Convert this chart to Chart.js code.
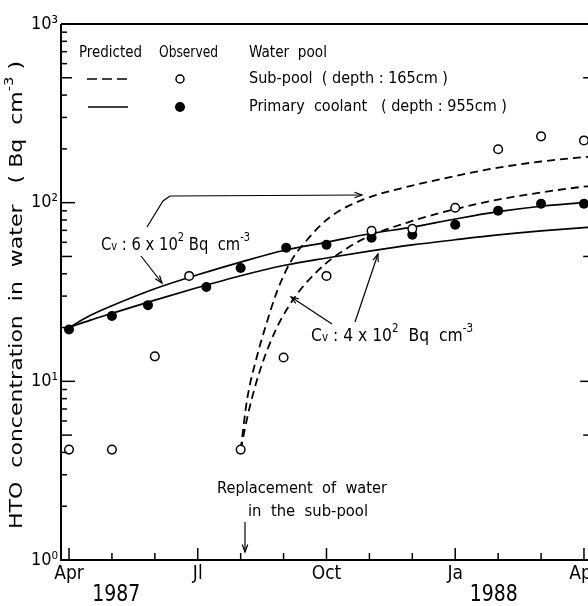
<!DOCTYPE html>
<html><head><meta charset="utf-8">
<script src="https://cdn.jsdelivr.net/npm/chart.js@4"></script>
<style>html,body{margin:0;padding:0;background:#fff;overflow:hidden;width:588px;height:606px}canvas{display:block}</style>
</head><body>
<canvas id="c" width="596" height="606" style="width:596px;height:606px"></canvas>
<script>
const FONT = "'Liberation Sans Narrow','DejaVu Sans Condensed','Liberation Sans',sans-serif";

// x = months since 1 April 1987
const monthTicks = [0,1,2,3,4,5,6,7,8,9,10,11,12];
const monthLabels = {0:'Apr',3:'Jl',6:'Oct',9:'Ja',12:'Apr'};
const yTickValues = [1,10,100,1000];
const yTickLabels = {1:'10⁰',10:'10¹',100:'10²',1000:'10³'};

// Observed
const subPoolMonths = [0,1,2,2.8,4,5,6,7.05,8,9,10,11,12];
const subPoolObs    = [4.15,4.15,13.8,38.9,4.15,13.6,38.9,69.6,71.4,93.7,199,235,223];
const coolantMonths = [0,1,1.84,3.2,4,5.06,6,7.05,8,9,10,11,12];
const coolantObs    = [19.5,23.2,26.7,33.7,43.1,55.9,58.1,63.6,66.1,75.2,90.2,98.6,98.6];

// Predicted
const coolant6Months = [0,0.5,1,2,3,4,5,6,7,8,9,10,11,12,12.3];
const coolant6       = [20,23.4,26.5,33,39.5,46.5,54,60,67,73,81,89,95.5,100,101];
const coolant4Months = [0,0.5,1,2,3,4,5,6,7,8,9,10,11,12,12.3];
const coolant4       = [20,22,24,28.5,33.5,39,44.5,49,53.5,58,62,66,69.5,72.5,73.2];
const subPool6Months = [4,4.15,4.38,4.6,4.85,5.15,5.55,6.08,6.85,7.72,9,10,11,12,12.3];
const subPool6       = [4.15,7.9,13.8,21,32,46,62,83,104,120,141,157,170,180,182];
const subPool4Months = [4,4.2,4.45,4.8,5.15,5.5,6,6.5,7,8,9,10,11,12,12.3];
const subPool4       = [4.15,7,11.5,19,27,35,46,56,65,79,92,104,114,123,125];

const pts = (xs, ys) => xs.map((x,i)=>({x, y: ys[i]}));

function richWidth(ctx, segs, size){
  let w=0;
  for(const s of segs){ ctx.font = (s.sup||s.sub? Math.round(size*0.65):size)+'px '+FONT; w+=ctx.measureText(s.t).width; }
  return w;
}
function drawRich(ctx, segs, x, y, size, targetW, align, rot){
  const nat = richWidth(ctx, segs, size);
  const sx = targetW ? targetW/nat : 1;
  const w = targetW || nat;
  ctx.save();
  ctx.translate(x,y);
  if(rot) ctx.rotate(rot);
  let x0 = align==='center' ? -w/2 : align==='right' ? -w : 0;
  ctx.translate(x0,0);
  ctx.scale(sx,1);
  ctx.fillStyle='#000'; ctx.textBaseline='middle'; ctx.textAlign='left';
  let cx=0;
  for(const s of segs){
    const fs = s.sup||s.sub ? Math.round(size*0.65) : size;
    ctx.font = fs+'px '+FONT;
    const dy = s.sup ? -size*0.38 : s.sub ? size*0.12 : 0;
    ctx.fillText(s.t, cx, dy);
    cx += ctx.measureText(s.t).width;
  }
  ctx.restore();
}
function line(ctx, pts, w){
  ctx.beginPath(); ctx.moveTo(pts[0][0],pts[0][1]);
  for(let i=1;i<pts.length;i++) ctx.lineTo(pts[i][0],pts[i][1]);
  ctx.lineWidth=w||1; ctx.strokeStyle='#000'; ctx.stroke();
}
function arrow(ctx, x1,y1,x2,y2, w){
  line(ctx, [[x1,y1],[x2,y2]], w||1);
  const a = Math.atan2(y2-y1,x2-x1), L=8, h=0.35;
  line(ctx, [[x2-L*Math.cos(a-h), y2-L*Math.sin(a-h)],[x2,y2],[x2-L*Math.cos(a+h), y2-L*Math.sin(a+h)]], w||1);
}

const deco = {
  id:'deco',
  afterDraw(chart){
    const ctx = chart.ctx, a = chart.chartArea;
    const xs = chart.scales.x, ys = chart.scales.y;
    ctx.save();
    ctx.setLineDash([]);
    // frame
    line(ctx, [[a.left,a.top],[a.right,a.top],[a.right,a.bottom],[a.left,a.bottom],[a.left,a.top]], 2);
    // y ticks (inward)
    for(let d=0; d<3; d++){
      for(let k=1;k<=9;k++){
        const v = k*Math.pow(10,d), y = ys.getPixelForValue(v);
        const len = k===1?14:(k===5?11:6);
        line(ctx, [[a.left,y],[a.left+len,y]], 1.5);
        if(k===1||k===5) line(ctx, [[a.right,y],[a.right-(k===1?10:7),y]], 1.5);
      }
    }
    // x ticks (inward)
    for(const m of monthTicks){
      const x = xs.getPixelForValue(m), len = m%3===0?12:7;
      line(ctx, [[x,a.bottom],[x,a.bottom-len]], 1.5);
    }
    // year labels
    drawRich(ctx, [{t:'1987'}], xs.getPixelForValue(1.1), 595, 23, 48, 'center');
    drawRich(ctx, [{t:'1988'}], xs.getPixelForValue(9.9), 595, 23, 48, 'center');
    // y title
    drawRich(ctx, [{t:'HTO  concentration  in  water   ( Bq  cm'},{t:'-3',sup:true},{t:' )'}], 17, 295, 18, 468, 'center', -Math.PI/2);
    // legend
    drawRich(ctx, [{t:'Predicted'}], 79, 53, 16, 63, 'left');
    drawRich(ctx, [{t:'Observed'}], 159, 53, 16, 59, 'left');
    drawRich(ctx, [{t:'Water  pool'}], 249, 53, 16, 78, 'left');
    ctx.setLineDash([10,5]); line(ctx, [[87,79],[128,79]], 1.6); ctx.setLineDash([]);
    ctx.beginPath(); ctx.arc(180,79,4,0,Math.PI*2); ctx.fillStyle='#fff'; ctx.fill(); ctx.lineWidth=1.5; ctx.stroke();
    drawRich(ctx, [{t:'Sub-pool  ( depth : 165cm )'}], 249, 79, 16, 199, 'left');
    line(ctx, [[88,107],[128,107]], 1.6);
    ctx.beginPath(); ctx.arc(180,107,5,0,Math.PI*2); ctx.fillStyle='#000'; ctx.fill();
    drawRich(ctx, [{t:'Primary  coolant   ( depth : 955cm )'}], 249, 107, 16, 258, 'left');
    // annotation Cv 6x10^2
    drawRich(ctx, [{t:'C'},{t:'v',sub:true},{t:' : 6 x 10'},{t:'2',sup:true},{t:' Bq  cm'},{t:'-3',sup:true}], 101, 245, 18, 149, 'left');
    line(ctx, [[147,227],[163,201],[170,196]], 1.2);
    arrow(ctx, 170,196, 362,195, 1.2);
    arrow(ctx, 141,256, 162,283, 1.2);
    // annotation Cv 4x10^2
    drawRich(ctx, [{t:'C'},{t:'v',sub:true},{t:' : 4 x 10'},{t:'2',sup:true},{t:'  Bq  cm'},{t:'-3',sup:true}], 311, 336, 18, 162, 'left');
    arrow(ctx, 332,324, 291,297, 1.2);
    arrow(ctx, 355,322, 378,254, 1.2);
    // replacement
    drawRich(ctx, [{t:'Replacement  of  water'}], 217, 489, 16, 170, 'left');
    drawRich(ctx, [{t:'in  the  sub-pool'}], 248, 512, 16, 120, 'left');
    arrow(ctx, 245,522, 245,552, 1.2);
    ctx.restore();
  }
};

new Chart(document.getElementById('c'), {
  type:'scatter',
  data:{datasets:[
    {label:'Sub-pool observed', data:pts(subPoolMonths, subPoolObs), showLine:false,
     pointRadius:4.3, pointBorderWidth:1.5, pointBorderColor:'#000', pointBackgroundColor:'#fff'},
    {label:'Primary coolant observed', data:pts(coolantMonths, coolantObs), showLine:false,
     pointRadius:5, pointBorderWidth:0, pointBackgroundColor:'#000', pointBorderColor:'#000'},
    {label:'Primary predicted 6e2', data:pts(coolant6Months, coolant6), showLine:true, pointRadius:0,
     borderColor:'#000', borderWidth:1.7, cubicInterpolationMode:'monotone'},
    {label:'Primary predicted 4e2', data:pts(coolant4Months, coolant4), showLine:true, pointRadius:0,
     borderColor:'#000', borderWidth:1.7, cubicInterpolationMode:'monotone'},
    {label:'Sub-pool predicted 6e2', data:pts(subPool6Months, subPool6), showLine:true, pointRadius:0,
     borderColor:'#000', borderWidth:1.8, borderDash:[8,5], cubicInterpolationMode:'monotone'},
    {label:'Sub-pool predicted 4e2', data:pts(subPool4Months, subPool4), showLine:true, pointRadius:0,
     borderColor:'#000', borderWidth:1.8, borderDash:[8,5], cubicInterpolationMode:'monotone'}
  ]},
  options:{
    responsive:false, animation:false, devicePixelRatio:1,
    layout:{padding:{top:24,right:2,left:0,bottom:0}},
    plugins:{legend:{display:false}, tooltip:{enabled:false}},
    scales:{
      x:{type:'linear', min:-0.1865, max:12.145,
        afterBuildTicks:s=>{s.ticks=monthTicks.map(v=>({value:v}));},
        afterFit:s=>{s.height=46; s.paddingLeft=0; s.paddingRight=0;},
        grid:{display:false, drawTicks:false}, border:{display:false},
        ticks:{autoSkip:false, maxRotation:0, padding:3, color:'#000',
          font:{family:FONT,size:19}, callback:v=>monthLabels[v]||''}},
      y:{type:'logarithmic', min:1, max:1000,
        afterBuildTicks:s=>{s.ticks=yTickValues.map(v=>({value:v}));},
        afterFit:s=>{s.width=61; s.paddingTop=0; s.paddingBottom=0;},
        grid:{display:false, drawTicks:false}, border:{display:false},
        ticks:{autoSkip:false, padding:3, color:'#000',
          font:{family:FONT,size:18}, callback:v=>yTickLabels[v]||''}}
    }
  },
  plugins:[deco]
});
</script>
</body></html>
